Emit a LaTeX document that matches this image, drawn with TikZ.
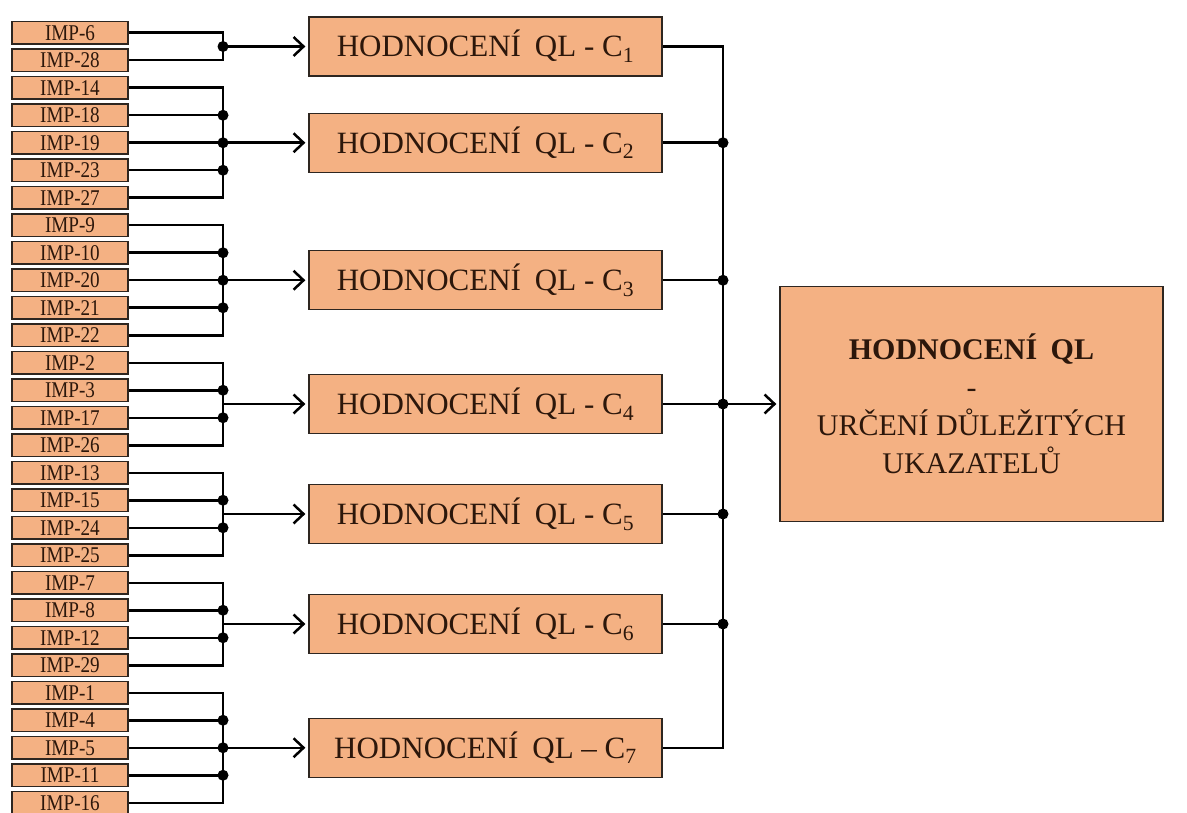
\documentclass[tikz,border=0pt]{standalone}
\usepackage{fontspec}
\setmainfont{Liberation Serif}
\newfontfamily\impfont[FakeStretch=0.85]{Liberation Serif}
\usetikzlibrary{arrows.meta,positioning,calc}
\definecolor{Peach}{HTML}{F4B183}
\definecolor{Edge}{HTML}{2E2620}
\definecolor{Ink}{HTML}{2C170B}

\begin{document}
\begin{tikzpicture}[x=1pt,y=-1pt,
    impbox/.style={draw=Edge,line width=1.3pt,fill=Peach,minimum width=116pt,minimum height=22.5pt,inner sep=0pt,text=Ink,font=\impfont\fontsize{22.5}{22.5}\selectfont},
    qlbox/.style={draw=Edge,line width=1.3pt,fill=Peach,minimum width=353pt,minimum height=59pt,inner sep=0pt,text=Ink,font=\fontsize{31}{31}\selectfont},
    mainbox/.style={draw=Edge,line width=1.3pt,fill=Peach,minimum width=383pt,minimum height=235pt,inner sep=0pt,align=center,text=Ink,font=\fontsize{30}{38}\selectfont},
    wire/.style={line width=2.5pt,black},
    arr/.style={wire,-{Straight Barb[length=10pt,width=19pt,line width=2.5pt]},shorten >=3pt}]

  \useasboundingbox (0,0) rectangle (1187,813);

  % input column
  \foreach \n [count=\i from 0] in {6,28,14,18,19,23,27,9,10,20,21,22,2,3,17,26,13,15,24,25,7,8,12,29,1,4,5,11,16}
    \node[impbox] (imp\n) at (70,32.75+27.5*\i) {IMP-\n};

  \coordinate (bx) at (223,0);
  \coordinate (cx) at (485.5,0);
  \coordinate (rx) at (723,0);
  \coordinate (mx) at (971.5,0);

  % group 1
  \draw[wire] (imp6.east) -- (imp6.east -| bx) -- (imp28.east -| bx) -- (imp28.east);
  \coordinate (j1) at ($(imp6.east -| bx)!0.5!(imp28.east -| bx)$);
  % group 2
  \draw[wire] (imp14.east) -- (imp14.east -| bx) -- (imp27.east -| bx) -- (imp27.east);
  \foreach \m in {18,19,23}
    \draw[wire] (imp\m.east) -- (imp\m.east -| bx);
  \coordinate (j2) at (imp19.east -| bx);
  % group 3
  \draw[wire] (imp9.east) -- (imp9.east -| bx) -- (imp22.east -| bx) -- (imp22.east);
  \foreach \m in {10,20,21}
    \draw[wire] (imp\m.east) -- (imp\m.east -| bx);
  \coordinate (j3) at (imp20.east -| bx);
  % group 4
  \draw[wire] (imp2.east) -- (imp2.east -| bx) -- (imp26.east -| bx) -- (imp26.east);
  \foreach \m in {3,17}
    \draw[wire] (imp\m.east) -- (imp\m.east -| bx);
  \coordinate (j4) at ($(imp3.east -| bx)!0.5!(imp17.east -| bx)$);
  % group 5
  \draw[wire] (imp13.east) -- (imp13.east -| bx) -- (imp25.east -| bx) -- (imp25.east);
  \foreach \m in {15,24}
    \draw[wire] (imp\m.east) -- (imp\m.east -| bx);
  \coordinate (j5) at ($(imp15.east -| bx)!0.5!(imp24.east -| bx)$);
  % group 6
  \draw[wire] (imp7.east) -- (imp7.east -| bx) -- (imp29.east -| bx) -- (imp29.east);
  \foreach \m in {8,12}
    \draw[wire] (imp\m.east) -- (imp\m.east -| bx);
  \coordinate (j6) at ($(imp8.east -| bx)!0.5!(imp12.east -| bx)$);
  % group 7
  \draw[wire] (imp1.east) -- (imp1.east -| bx) -- (imp16.east -| bx) -- (imp16.east);
  \foreach \m in {4,5,11}
    \draw[wire] (imp\m.east) -- (imp\m.east -| bx);
  \coordinate (j7) at (imp5.east -| bx);

  % junction dots
  \foreach \m in {18,19,23,10,20,21,3,17,15,24,8,12,4,5,11}
    \fill (imp\m.east -| bx) circle (5.5pt);
  \fill (j1) circle (5.5pt);

  % criteria boxes
  \node[qlbox] (c1) at (cx |- j1) {HODNOCENÍ\hspace{0.45em}QL - C\textsubscript{1}};
  \node[qlbox] (c2) at (cx |- j2) {HODNOCENÍ\hspace{0.45em}QL - C\textsubscript{2}};
  \node[qlbox] (c3) at (cx |- j3) {HODNOCENÍ\hspace{0.45em}QL - C\textsubscript{3}};
  \node[qlbox] (c4) at (cx |- j4) {HODNOCENÍ\hspace{0.45em}QL - C\textsubscript{4}};
  \node[qlbox] (c5) at (cx |- j5) {HODNOCENÍ\hspace{0.45em}QL - C\textsubscript{5}};
  \node[qlbox] (c6) at (cx |- j6) {HODNOCENÍ\hspace{0.45em}QL - C\textsubscript{6}};
  \node[qlbox] (c7) at (cx |- j7) {HODNOCENÍ\hspace{0.45em}QL -- C\textsubscript{7}};
  \foreach \k in {1,...,7}
    \draw[arr] (j\k) -- (c\k.west);

  % output side
  \draw[wire] (c1.east) -- (c1.east -| rx) -- (c7.east -| rx) -- (c7.east);
  \foreach \k in {2,...,6} {
    \draw[wire] (c\k.east) -- (c\k.east -| rx);
    \fill (c\k.east -| rx) circle (5.5pt);
  }
  \node[mainbox] (ql) at (mx |- c4) {\textbf{HODNOCENÍ\hspace{0.45em}QL}\\-\\URČENÍ DŮLEŽITÝCH\\UKAZATELŮ};
  \draw[arr] (c4.east -| rx) -- (ql.west);
\end{tikzpicture}
\end{document}
